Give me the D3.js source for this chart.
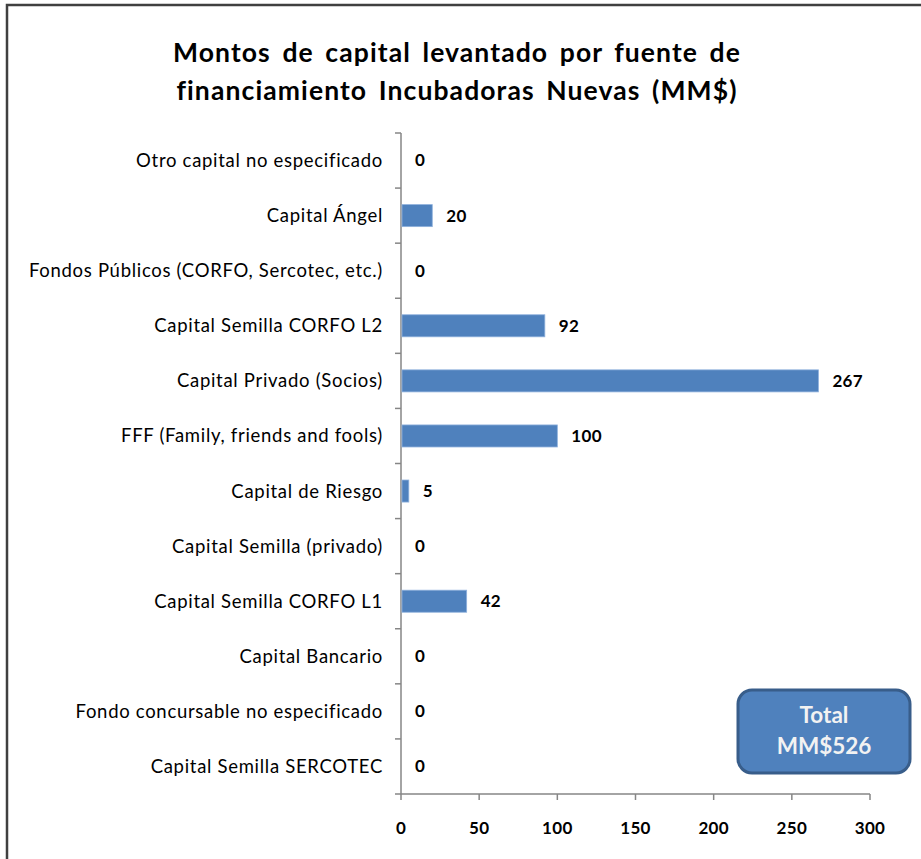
<!DOCTYPE html>
<html>
<head>
<meta charset="utf-8">
<script src="https://cdn.jsdelivr.net/npm/d3@7"></script>
<style>
  body { margin: 0; background: #fff; }
  svg { display: block; font-family: Lato, "Open Sans", sans-serif; }
</style>
</head>
<body>
<svg id="chart" width="921" height="859"></svg>
<script>
'use strict'

const categories = [
  'Otro capital no especificado',
  'Capital Ángel',
  'Fondos Públicos (CORFO, Sercotec, etc.)',
  'Capital Semilla CORFO L2',
  'Capital Privado (Socios)',
  'FFF (Family, friends and fools)',
  'Capital de Riesgo',
  'Capital Semilla (privado)',
  'Capital Semilla CORFO L1',
  'Capital Bancario',
  'Fondo concursable no especificado',
  'Capital Semilla SERCOTEC'
]
const values = [0, 20, 0, 92, 267, 100, 5, 0, 42, 0, 0, 0]
const xTicks = [0, 50, 100, 150, 200, 250, 300]
const titleLines = ['Montos de capital levantado por fuente de', 'financiamiento Incubadoras Nuevas (MM$)']
const totalLines = ['Total', 'MM$526']

const svg = d3.select('#chart')

// chart frame (runs off the right and bottom edge)
svg.append('rect')
  .attr('x', 7).attr('y', 5)
  .attr('width', 940).attr('height', 900)
  .attr('fill', '#fff')
  .attr('stroke', '#404040')
  .attr('stroke-width', 2.5)

svg.append('text')
  .attr('text-anchor', 'middle')
  .attr('font-weight', 'bold')
  .attr('font-size', 26.5)
  .attr('letter-spacing', 1.1)
  .attr('word-spacing', 4)
  .attr('fill', '#000')
  .selectAll('tspan')
  .data(titleLines)
  .join('tspan')
  .attr('x', 457)
  .attr('y', (d, i) => 62 + i * 38)
  .text(d => d)

const plot = { left: 401, right: 870, top: 133, bottom: 794 }

const x = d3.scaleLinear().domain([0, 300]).range([plot.left, plot.right])
const y = d3.scaleBand().domain(categories).range([plot.top, plot.bottom]).paddingInner(0.6).paddingOuter(0.3)
const yBand = d3.scaleBand().domain(categories).range([plot.top, plot.bottom])

const axisColor = '#868686'

// category axis: ticks between bands
const yAxis = svg.append('g')
yAxis.append('line')
  .attr('x1', plot.left).attr('x2', plot.left)
  .attr('y1', plot.top).attr('y2', plot.bottom)
  .attr('stroke', axisColor).attr('stroke-width', 1.5)
yAxis.selectAll('.ytick')
  .data(categories)
  .join('line')
  .attr('class', 'ytick')
  .attr('x1', plot.left - 6).attr('x2', plot.left)
  .attr('y1', d => yBand(d)).attr('y2', d => yBand(d))
  .attr('stroke', axisColor).attr('stroke-width', 1.5)
yAxis.selectAll('.ylabel')
  .data(categories)
  .join('text')
  .attr('class', 'ylabel')
  .attr('x', plot.left - 18)
  .attr('y', d => yBand(d) + yBand.bandwidth() / 2)
  .attr('dy', '0.35em')
  .attr('text-anchor', 'end')
  .attr('font-size', 18.5)
  .attr('letter-spacing', 0.7)
  .attr('fill', '#000')
  .text(d => d)

// value axis
const xAxis = svg.append('g')
xAxis.append('line')
  .attr('x1', plot.left - 6).attr('x2', plot.right)
  .attr('y1', plot.bottom).attr('y2', plot.bottom)
  .attr('stroke', axisColor).attr('stroke-width', 1.5)
xAxis.selectAll('.xtick')
  .data(xTicks)
  .join('line')
  .attr('class', 'xtick')
  .attr('x1', d => x(d)).attr('x2', d => x(d))
  .attr('y1', plot.bottom).attr('y2', plot.bottom + 6)
  .attr('stroke', axisColor).attr('stroke-width', 1.5)
xAxis.selectAll('.xlabel')
  .data(xTicks)
  .join('text')
  .attr('class', 'xlabel')
  .attr('x', d => x(d))
  .attr('y', 834)
  .attr('text-anchor', 'middle')
  .attr('font-weight', 'bold')
  .attr('font-size', 17)
  .attr('letter-spacing', 0.3)
  .attr('fill', '#000')
  .text(d => d)

const bars = svg.append('g')
bars.selectAll('rect')
  .data(values)
  .join('rect')
  .attr('x', x(0) + 1)
  .attr('y', (d, i) => y(categories[i]))
  .attr('width', d => Math.max(0, x(d) - x(0) - 1))
  .attr('height', y.bandwidth())
  .attr('fill', '#4f81bd')
  .attr('stroke', d => d > 0 ? '#8eb0dc' : 'none')
  .attr('stroke-width', 0.8)

bars.selectAll('text')
  .data(values)
  .join('text')
  .attr('x', d => x(d) + 14)
  .attr('y', (d, i) => y(categories[i]) + y.bandwidth() / 2)
  .attr('dy', '0.35em')
  .attr('font-weight', 'bold')
  .attr('font-size', 17)
  .attr('letter-spacing', 0.3)
  .attr('fill', '#000')
  .text(d => d)

// total callout
const box = svg.append('g')
box.append('rect')
  .attr('x', 738).attr('y', 690)
  .attr('width', 172).attr('height', 83)
  .attr('rx', 14)
  .attr('fill', '#4f81bd')
  .attr('stroke', '#385d8a')
  .attr('stroke-width', 3)
box.append('text')
  .attr('text-anchor', 'middle')
  .attr('font-weight', 'bold')
  .attr('font-size', 22.5)
  .attr('fill', '#f2f2f2')
  .selectAll('tspan')
  .data(totalLines)
  .join('tspan')
  .attr('x', 824)
  .attr('y', (d, i) => 723 + i * 31)
  .text(d => d)
</script>
</body>
</html>
